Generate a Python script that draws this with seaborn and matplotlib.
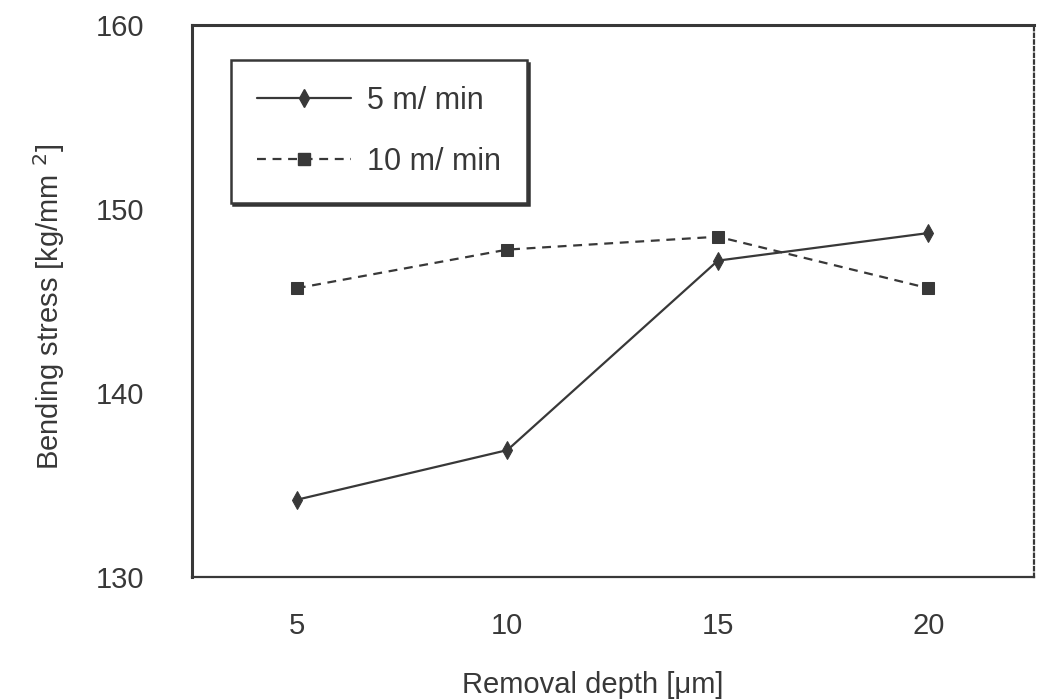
import matplotlib
matplotlib.use("Agg")
import matplotlib.pyplot as plt
import seaborn as sns
import pandas as pd

# Removal depth (um) and measured bending stress (kg/mm^2) for two cutting speeds
depths = [5, 10, 15, 20]
stress_5 = [134.2, 136.9, 147.2, 148.7]
stress_10 = [145.7, 147.8, 148.5, 145.7]
series_names = ["5 m/ min", "10 m/ min"]
x_ticklabels = ["5", "10", "15", "20"]
y_ticks = [130, 140, 150, 160]

df = pd.DataFrame({
    "depth": depths * 2,
    "stress": stress_5 + stress_10,
    "speed": [series_names[0]] * len(depths) + [series_names[1]] * len(depths),
})

sns.set_theme(style="white")
plt.rcParams["font.family"] = ["Liberation Sans", "DejaVu Sans"]
ink = "#383838"
fs = 21

fig = plt.figure(figsize=(10.41, 6.99), dpi=100)
ax = fig.add_axes([0.184, 0.1745, 0.809, 0.7895])

sns.lineplot(
    data=df, x="depth", y="stress", hue="speed", style="speed",
    palette=[ink, ink], dashes=[(None, None), (4, 3)], markers=["d", "s"],
    markersize=9, linewidth=1.6, markeredgecolor=ink, legend=False, ax=ax,
)

ax.set_xlim(2.5, 22.5)
ax.set_ylim(130, 160)

# Category labels sit between the inward tick marks
ax.set_xticks([7.5, 12.5, 17.5])
ax.set_xticklabels([])
ax.set_xticks(depths, minor=True)
ax.set_xticklabels(x_ticklabels, minor=True)
ax.tick_params(axis="x", which="major", direction="in", length=7, width=1.6, color=ink)
ax.tick_params(axis="x", which="minor", length=0, pad=25, labelsize=fs, labelcolor=ink)

ax.set_yticks(y_ticks)
ax.set_yticklabels([str(v) for v in y_ticks])
ax.tick_params(axis="y", direction="in", length=6, width=1.6, color=ink,
               pad=34, labelsize=fs, labelcolor=ink)

for side in ["left", "top", "bottom"]:
    ax.spines[side].set_visible(True)
    ax.spines[side].set_color(ink)
ax.spines["left"].set_linewidth(2.2)
ax.spines["top"].set_linewidth(2.2)
ax.spines["bottom"].set_linewidth(1.6)
ax.spines["right"].set_color(ink)
ax.spines["right"].set_linewidth(1.6)
ax.spines["right"].set_linestyle((0, (1.5, 1.5)))

ax.set_xlabel("Removal depth [\u03bcm]", fontsize=fs, color=ink)
ax.xaxis.set_label_coords(0.476, -0.17)
ax.set_ylabel("Bending stress [kg/mm $^{2}$]", fontsize=fs, color=ink)
ax.yaxis.set_label_coords(-0.148, 0.49)

handles = [
    plt.Line2D([], [], color=ink, lw=1.6, marker="d", markersize=9),
    plt.Line2D([], [], color=ink, lw=1.6, ls=(0, (4, 3)), marker="s", markersize=9),
]
leg = ax.legend(
    handles, series_names, loc="upper left", bbox_to_anchor=(0.0464, 0.9365),
    frameon=True, fancybox=False, edgecolor=ink, framealpha=1,
    shadow={"color": "#333333", "alpha": 1.0}, fontsize=22, labelcolor=ink,
    handlelength=3.1, handletextpad=0.5, borderpad=0.85, labelspacing=1.0,
    borderaxespad=0,
)
leg.get_frame().set_linewidth(1.8)

fig.savefig("out.png", dpi=100, facecolor="white")
